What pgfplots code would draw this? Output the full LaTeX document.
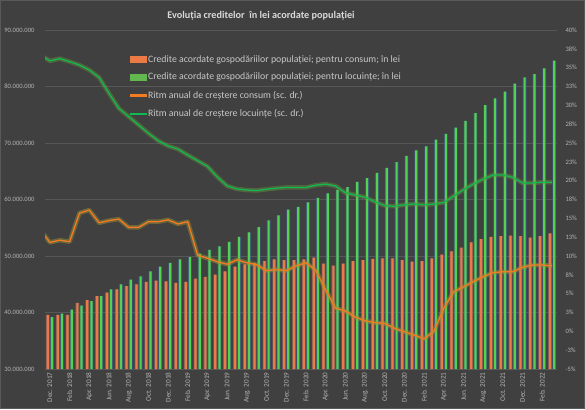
\documentclass[border=0pt]{standalone}
\usepackage{pgfplots}
\usepackage{pgfplotstable}
\pgfplotsset{compat=1.18}
\usepackage{fontspec}
\setmainfont{Carlito}
\definecolor{bg}{HTML}{404040}
\definecolor{framec}{HTML}{595959}
\definecolor{gridc}{HTML}{575757}
\definecolor{tickc}{HTML}{B4B4B4}
\definecolor{titlec}{HTML}{D9D9D9}
\definecolor{legc}{HTML}{C8C8C8}
\definecolor{obar}{HTML}{EC7A45}
\definecolor{oedge}{HTML}{9A6A66}
\definecolor{gbar}{HTML}{52D24E}
\definecolor{gedge}{HTML}{3C64A8}
\definecolor{gleg}{HTML}{62B84E}
\definecolor{oline}{HTML}{F47C20}
\definecolor{gline}{HTML}{12B850}
\definecolor{oglow}{HTML}{9C943A}
\definecolor{gglow}{HTML}{6E9A3A}

\pgfplotstableread{
i c h
0 39.6 39.2
1 39.6 39.8
2 39.6 40.5
3 41.7 41.2
4 42.2 42.0
5 42.9 42.9
6 43.5 44.1
7 44.1 45.0
8 44.65 45.8
9 45.0 46.4
10 45.4 47.3
11 45.65 48.1
12 45.5 48.8
13 45.25 49.4
14 45.4 49.8
15 46.0 50.4
16 46.3 51.1
17 46.7 51.7
18 47.3 52.5
19 48.1 53.4
20 48.5 54.2
21 48.8 55.1
22 49.1 56.3
23 49.4 57.2
24 49.25 58.2
25 49.25 58.7
26 49.4 59.5
27 49.7 60.3
28 48.65 61.1
29 48.3 61.7
30 48.65 62.2
31 49.1 63.1
32 49.25 63.8
33 49.5 64.7
34 49.6 65.6
35 49.6 66.6
36 49.25 67.7
37 49.0 68.7
38 49.1 69.4
39 49.6 70.6
40 50.25 71.6
41 50.8 72.7
42 51.5 73.9
43 52.4 75.3
44 53.0 76.7
45 53.4 77.9
46 53.5 79.1
47 53.6 80.5
48 53.5 81.6
49 53.25 82.2
50 53.5 83.2
51 54.0 84.6
}\bars

\pgfplotstableread{
i c h
-1 13.5 36.7
0 11.8 35.9
1 12.1 36.2
2 11.9 35.8
3 15.7 35.35
4 16.1 34.7
5 14.4 33.7
6 14.7 31.6
7 14.9 29.6
8 13.8 28.5
9 13.8 27.4
10 14.55 26.3
11 14.55 25.3
12 14.8 24.6
13 14.25 24.2
14 14.55 23.4
15 10.1 22.65
16 9.7 21.9
17 9.25 20.5
18 8.9 19.3
19 9.5 18.9
20 9.1 18.75
21 8.85 18.7
22 8.05 18.85
23 8.2 19.0
24 8.05 19.1
25 8.7 19.1
26 9.1 19.1
27 8.1 19.4
28 5.5 19.55
29 3.1 19.3
30 2.7 18.4
31 1.9 18.1
32 1.4 17.8
33 1.15 17.2
34 1.05 16.7
35 0.4 16.6
36 -0.05 16.8
37 -0.5 16.9
38 -1.0 16.8
39 0.0 16.9
40 3.05 17.1
41 5.25 17.95
42 5.9 18.8
43 6.6 19.55
44 7.25 20.2
45 7.8 20.75
46 7.9 20.75
47 7.9 20.45
48 8.5 19.7
49 8.8 19.7
50 8.8 19.8
51 8.7 19.8
}\rates

\begin{document}
\begin{tikzpicture}
\fill[bg] (-45pt,-40pt) rectangle (540pt,369pt);
\draw[framec, line width=0.8pt] (-44.6pt,-39.6pt) rectangle (539.6pt,368.6pt);
\node[font=\bfseries\fontsize{10.2}{12}\selectfont, text=titlec] at (216pt,353.5pt) {Evoluția creditelor\ \ în lei acordate populației};
\begin{axis}[
  scale only axis, width=512pt, height=339pt,
  xmin=-0.5, xmax=51.5, ymin=30, ymax=90,
  axis line style={draw=none},
  major tick length=0pt,
  ytick={30,40,50,60,70,80,90},
  yticklabels={30.000.000,40.000.000,50.000.000,60.000.000,70.000.000,80.000.000,90.000.000},
  yticklabel style={font=\fontsize{6.6}{7}\selectfont, text=tickc, xshift=-7pt},
  ymajorgrids, grid style={color=gridc, line width=0.6pt},
  xtick={0,2,...,50},
  xticklabels={Dec. 2017,Feb. 2018,Apr. 2018,Jun. 2018,Aug. 2018,Oct. 2018,Dec. 2018,Feb. 2019,Apr. 2019,Jun. 2019,Aug. 2019,Oct. 2019,Dec. 2019,Feb. 2020,Apr. 2020,Jun. 2020,Aug. 2020,Oct. 2020,Dec. 2020,Feb. 2021,Apr. 2021,Jun. 2021,Aug. 2021,Oct. 2021,Dec. 2021,Feb. 2022},
  xticklabel style={rotate=90, anchor=east, font=\fontsize{7.2}{8}\selectfont, text=tickc},
  ybar,
]
\addplot[forget plot, fill=oedge, draw=none, fill opacity=0.6, bar width=3.8pt, bar shift=-2.1pt] table[x=i,y=c] {\bars};
\addplot[forget plot, fill=gedge, draw=none, fill opacity=0.6, bar width=3.8pt, bar shift=2.1pt] table[x=i,y=h] {\bars};
\addplot[fill=obar, draw=none, bar width=2.2pt, bar shift=-2.1pt] table[x=i,y=c] {\bars};
\addplot[fill=gbar, draw=none, bar width=2.2pt, bar shift=2.1pt] table[x=i,y=h] {\bars};
\end{axis}
\begin{axis}[
  scale only axis, width=512pt, height=339pt,
  xmin=-0.5, xmax=51.5, ymin=-5, ymax=40,
  hide x axis,
  axis y line*=right,
  axis line style={draw=none},
  major tick length=0pt,
  ytick={-5,-2.5,...,40},
  yticklabels={-5\%,-3\%,0\%,3\%,5\%,8\%,10\%,13\%,15\%,18\%,20\%,23\%,25\%,28\%,30\%,33\%,35\%,38\%,40\%},
  yticklabel style={font=\fontsize{6.6}{7}\selectfont, text=tickc, anchor=west, xshift=5pt},
  legend style={at={(axis description cs:0.165,0.932)}, anchor=north west, draw=none, fill=none,
    font=\fontsize{9.8}{11.5}\selectfont, text=legc, row sep=5.5pt, inner sep=0pt},
  legend cell align=left,
]
\addlegendimage{legend image code/.code={\fill[obar] (0pt,-2.6pt) rectangle (16pt,3pt);}}
\addlegendentry{Credite acordate gospodăriilor populației; pentru consum; în lei}
\addlegendimage{legend image code/.code={\fill[gleg] (0pt,-2.6pt) rectangle (16pt,3pt);}}
\addlegendentry{Credite acordate gospodăriilor populației; pentru locuințe; în lei}
\addlegendimage{legend image code/.code={\fill[oline] (0pt,-0.6pt) rectangle (16pt,0.6pt);}}
\addlegendentry{Ritm anual de creștere consum (sc. dr.)}
\addlegendimage{legend image code/.code={\fill[gline] (0pt,-0.6pt) rectangle (16pt,0.6pt);}}
\addlegendentry{Ritm anual de creștere locuințe (sc. dr.)}
\addplot[forget plot, oglow, opacity=0.45, line width=4.5pt, line join=round] table[x=i,y=c] {\rates};
\addplot[forget plot, gglow, opacity=0.4, line width=4.5pt, line join=round] table[x=i,y=h] {\rates};
\addplot[forget plot, oline, line width=1.3pt, line join=round] table[x=i,y=c] {\rates};
\addplot[forget plot, gline, line width=1.3pt, line join=round] table[x=i,y=h] {\rates};
\end{axis}
\end{tikzpicture}
\end{document}
